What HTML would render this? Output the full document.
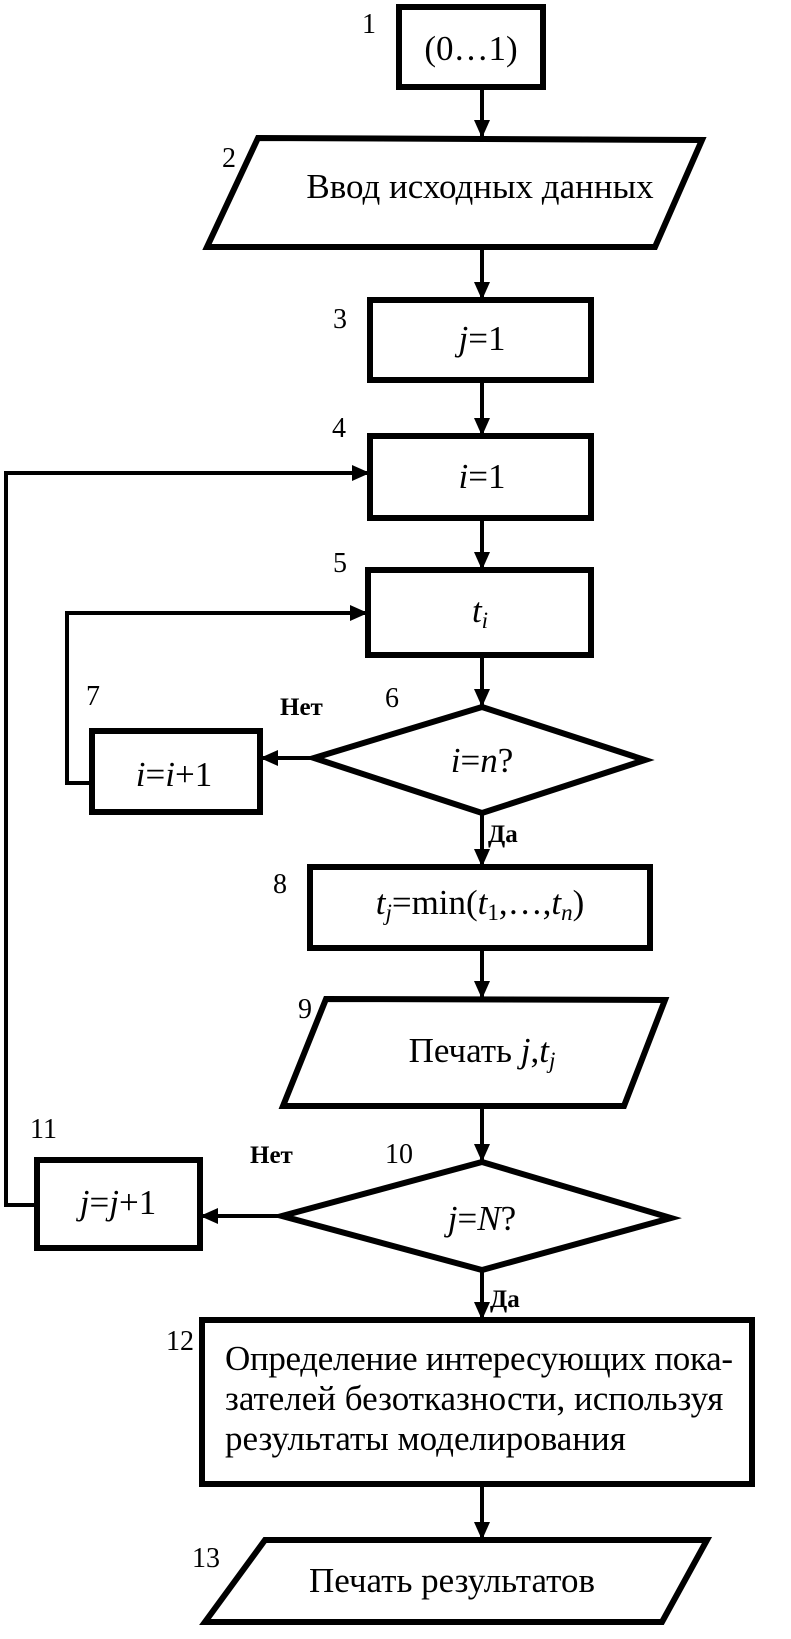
<!DOCTYPE html>
<html><head><meta charset="utf-8"><style>
html,body{margin:0;padding:0;background:#fff}
svg text{font-family:"Liberation Serif",serif;fill:#000}
</style></head><body>
<svg width="791" height="1634" viewBox="0 0 791 1634" xmlns="http://www.w3.org/2000/svg">
<defs><marker id="a" markerWidth="18" markerHeight="16" refX="16" refY="8" orient="auto" markerUnits="userSpaceOnUse"><path d="M0,0 L18,8 L0,16 Z" fill="#000"/></marker></defs>
<g fill="none" stroke="#000" stroke-width="6">
<rect x="399" y="7" width="144" height="80"/>
<polygon points="258,138 702,140 655,247 207,247"/>
<rect x="370" y="300" width="221" height="80"/>
<rect x="370" y="436" width="221" height="82"/>
<rect x="368" y="570" width="223" height="85"/>
<polygon points="482,707 645,760 482,813 314,758"/>
<rect x="92" y="731" width="168" height="81"/>
<rect x="310" y="867" width="340" height="81"/>
<polygon points="326,999 665,1000 624,1106 283,1106"/>
<polygon points="482,1162 671,1218 482,1270 282,1216"/>
<rect x="37" y="1160" width="163" height="88"/>
<rect x="202" y="1320" width="550" height="164"/>
<polygon points="265,1540 707,1540 662,1622 205,1622"/>
</g>
<g fill="none" stroke="#000" stroke-width="4">
<line x1="482" y1="87" x2="482" y2="136" marker-end="url(#a)"/>
<line x1="482" y1="247" x2="482" y2="298" marker-end="url(#a)"/>
<line x1="482" y1="380" x2="482" y2="434" marker-end="url(#a)"/>
<line x1="482" y1="518" x2="482" y2="568" marker-end="url(#a)"/>
<line x1="482" y1="655" x2="482" y2="705" marker-end="url(#a)"/>
<line x1="314" y1="758" x2="262" y2="758" marker-end="url(#a)"/>
<polyline points="92,783 67,783 67,613 366,613" marker-end="url(#a)"/>
<line x1="482" y1="813" x2="482" y2="865" marker-end="url(#a)"/>
<line x1="482" y1="948" x2="482" y2="997" marker-end="url(#a)"/>
<line x1="482" y1="1106" x2="482" y2="1160" marker-end="url(#a)"/>
<line x1="282" y1="1216" x2="202" y2="1216" marker-end="url(#a)"/>
<polyline points="37,1205 6,1205 6,473 368,473" marker-end="url(#a)"/>
<line x1="482" y1="1270" x2="482" y2="1318" marker-end="url(#a)"/>
<line x1="482" y1="1484" x2="482" y2="1538" marker-end="url(#a)"/>
</g>
<g font-size="35">
<text x="471" y="60" text-anchor="middle">(0…1)</text>
<text x="480" y="198" text-anchor="middle">Ввод исходных данных</text>
<text x="482" y="350" text-anchor="middle"><tspan font-style="italic">j</tspan>=1</text>
<text x="482" y="488" text-anchor="middle"><tspan font-style="italic">i</tspan>=1</text>
<text x="480" y="622" text-anchor="middle" font-style="italic">t<tspan font-size="23" dy="6">i</tspan></text>
<text x="482" y="772" text-anchor="middle"><tspan font-style="italic">i</tspan>=<tspan font-style="italic">n</tspan>?</text>
<text x="174" y="786" text-anchor="middle"><tspan font-style="italic">i</tspan>=<tspan font-style="italic">i</tspan>+1</text>
<text x="480" y="914" text-anchor="middle"><tspan font-style="italic">t</tspan><tspan font-size="23" dy="6" font-style="italic">j</tspan><tspan dy="-6">=min(</tspan><tspan font-style="italic">t</tspan><tspan font-size="23" dy="6">1</tspan><tspan dy="-6">,…,</tspan><tspan font-style="italic">t</tspan><tspan font-size="23" dy="6" font-style="italic">n</tspan><tspan dy="-6">)</tspan></text>
<text x="482" y="1062" text-anchor="middle">Печать <tspan font-style="italic">j</tspan>,<tspan font-style="italic">t</tspan><tspan font-size="23" dy="6" font-style="italic">j</tspan></text>
<text x="482" y="1230" text-anchor="middle"><tspan font-style="italic">j</tspan>=<tspan font-style="italic">N</tspan>?</text>
<text x="118" y="1214" text-anchor="middle"><tspan font-style="italic">j</tspan>=<tspan font-style="italic">j</tspan>+1</text>
<text x="225" y="1370" textLength="508">Определение интересующих пока-</text>
<text x="225" y="1410">зателей безотказности, используя</text>
<text x="225" y="1450">результаты моделирования</text>
<text x="452" y="1592" text-anchor="middle">Печать результатов</text>
</g>
<g font-size="28">
<text x="362" y="33">1</text>
<text x="222" y="167">2</text>
<text x="333" y="328">3</text>
<text x="332" y="437">4</text>
<text x="333" y="572">5</text>
<text x="385" y="707">6</text>
<text x="86" y="705">7</text>
<text x="280" y="715" font-weight="bold" font-size="25">Нет</text>
<text x="488" y="842" font-weight="bold" font-size="25">Да</text>
<text x="273" y="893">8</text>
<text x="298" y="1018">9</text>
<text x="385" y="1163">10</text>
<text x="30" y="1138">11</text>
<text x="250" y="1163" font-weight="bold" font-size="25">Нет</text>
<text x="490" y="1307" font-weight="bold" font-size="25">Да</text>
<text x="166" y="1350">12</text>
<text x="192" y="1567">13</text>
</g>
</svg>
</body></html>
